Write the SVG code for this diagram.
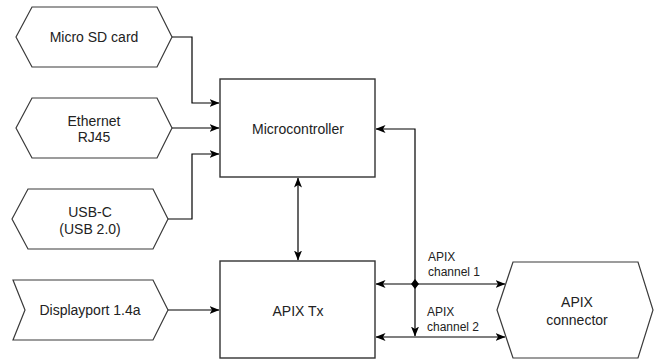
<svg xmlns="http://www.w3.org/2000/svg" width="660" height="363" viewBox="0 0 660 363">
<defs>
<style>
.shape{fill:#fff;stroke:#3a3a3a;stroke-width:1.2}
.box{fill:#fff;stroke:#333;stroke-width:1.4}
.t{font-family:"Liberation Sans",Arial,sans-serif;font-size:14px;fill:#222;text-anchor:middle}
.lbl{font-family:"Liberation Sans",Arial,sans-serif;font-size:12px;fill:#222}
.c{fill:none;stroke:#000;stroke-width:1.2}
</style>
<marker id="ah" viewBox="0 0 10 8" refX="9.5" refY="4" markerWidth="10" markerHeight="8" markerUnits="userSpaceOnUse" orient="auto-start-reverse">
<path d="M0,0 L10,4 L0,8 L2.5,4 Z" fill="#000"/>
</marker>
</defs>
<rect width="660" height="363" fill="#fff"/>
<g id="connectors">
<path class="c" d="M172,37 H192 V103 H219" marker-end="url(#ah)"/>
<path class="c" d="M172,128 H219" marker-end="url(#ah)"/>
<path class="c" d="M168,219 H192 V154 H219" marker-end="url(#ah)"/>
<path class="c" d="M168,310 H219" marker-end="url(#ah)"/>
<path class="c" d="M298,178 V260" marker-start="url(#ah)" marker-end="url(#ah)"/>
<path class="c" d="M415,284 V129 H376" marker-end="url(#ah)"/>
<path class="c" d="M376,284 H505" marker-start="url(#ah)" marker-end="url(#ah)"/>
<path class="c" d="M376,337 H505" marker-start="url(#ah)" marker-end="url(#ah)"/>
<path class="c" d="M415,284 V336" marker-end="url(#ah)"/>
<path d="M415,279 L419,284 L415,289 L411,284 Z" fill="#000"/>
<text class="lbl" x="428" y="261">APIX</text>
<text class="lbl" x="428" y="276">channel 1</text>
<text class="lbl" x="427" y="316">APIX</text>
<text class="lbl" x="427" y="331">channel 2</text>
</g>
<g id="microsd">
<path class="shape" d="M16,37 L32,7 H157 L172,37 L157,67 H32 Z"/>
<text class="t" x="94" y="42">Micro SD card</text>
</g>
<g id="ethernet">
<path class="shape" d="M16,128 L32,98 H157 L172,128 L157,158 H32 Z"/>
<text class="t" x="94" y="126">Ethernet</text>
<text class="t" x="94" y="142">RJ45</text>
</g>
<g id="usbc">
<path class="shape" d="M12,219 L28,189 H153 L168,219 L153,249 H28 Z"/>
<text class="t" x="90" y="217">USB-C</text>
<text class="t" x="90" y="234">(USB 2.0)</text>
</g>
<g id="displayport">
<path class="shape" d="M13,280 H153 L168,310 L153,340 H13 L25,310 Z"/>
<text class="t" x="90" y="315">Displayport 1.4a</text>
</g>
<g id="microcontroller">
<rect class="box" x="220" y="79" width="155" height="98"/>
<text class="t" x="298" y="134">Microcontroller</text>
</g>
<g id="apixtx">
<rect class="box" x="220" y="261" width="155" height="97"/>
<text class="t" x="298" y="316">APIX Tx</text>
</g>
<g id="apixconnector">
<path class="shape" d="M497,310 L513,262 H638 L653,310 L638,358 H513 Z"/>
<text class="t" x="577" y="307">APIX</text>
<text class="t" x="577" y="325">connector</text>
</g>
</svg>
